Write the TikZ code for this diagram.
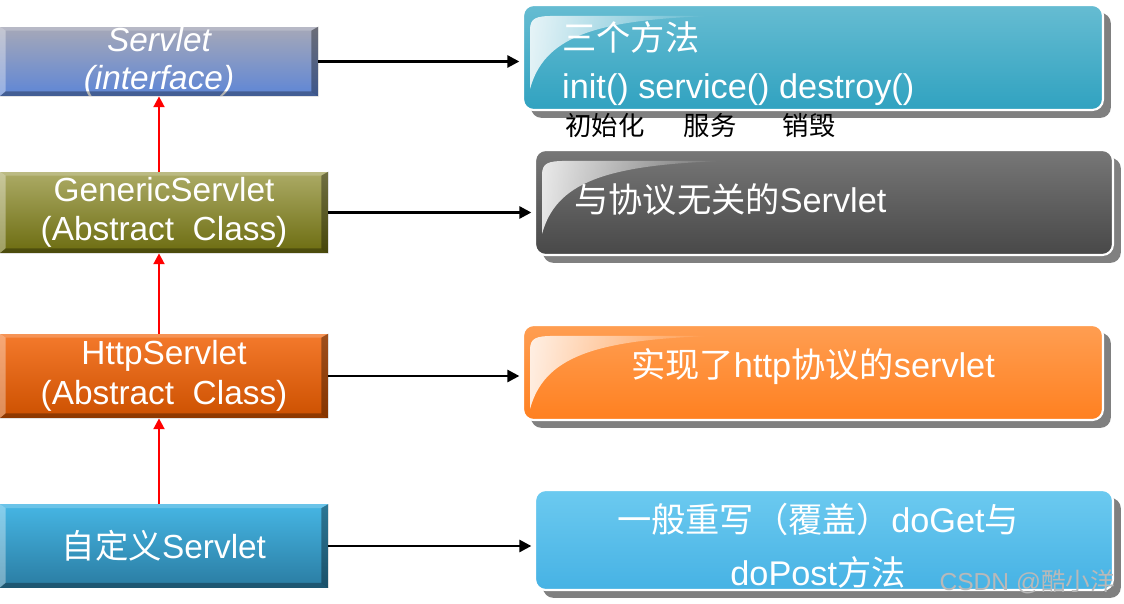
\documentclass[tikz,border=0pt]{standalone}
\usepackage{fontspec}
\setmainfont{Liberation Sans}
\newfontfamily\cjk{Noto Sans CJK SC}
\usetikzlibrary{arrows.meta,shadows,fadings}

\definecolor{servletTop}{HTML}{A6A8B8}
\definecolor{servletBot}{HTML}{5E86D6}
\definecolor{genericTop}{HTML}{ACAB66}
\definecolor{genericBot}{HTML}{6C6C10}
\definecolor{httpTop}{HTML}{F47A2C}
\definecolor{httpBot}{HTML}{CC5000}
\definecolor{customTop}{HTML}{46B6E4}
\definecolor{customBot}{HTML}{2A7CA2}
\definecolor{lifeTop}{HTML}{66BCD2}
\definecolor{lifeBot}{HTML}{30A2C0}
\definecolor{plainTop}{HTML}{777777}
\definecolor{plainBot}{HTML}{484848}
\definecolor{protoTop}{HTML}{FF9E52}
\definecolor{protoBot}{HTML}{FF8020}
\definecolor{userTop}{HTML}{6CCAF0}
\definecolor{userBot}{HTML}{46B2E4}

\tikzfading[name=glossfade, left color=transparent!15, right color=transparent!100]

\tikzset{
	cls/.style={minimum width=6.56cm, minimum height=1.64cm, inner sep=0pt, text=white, align=center, font=\fontsize{19}{22.5}\selectfont},
	note/.style={rounded corners=6pt, draw=white, line width=1.2pt, minimum width=11.6cm, minimum height=2.1cm, inner sep=0pt, general shadow={fill=black!50, shadow xshift=4.5pt, shadow yshift=-4.5pt}},
	notetext/.style={text=white, font=\fontsize{19.5}{30}\selectfont},
	under/.style={font=\cjk\fontsize{15}{18}\selectfont},
	up/.style={red, line width=1.4pt, -{Triangle[length=6.2pt, width=6.2pt]}},
	across/.style={black, line width=1.5pt, -{Triangle[length=6.8pt, width=6.8pt]}, shorten >=1.5pt},
}

% bevelled edges of a class box
\newcommand{\classbevel}[1]{
	\fill [white, opacity=0.35] (#1.north west) -- (#1.south west) -- ([shift={(6,-5)}]#1.south west) -- ([shift={(6,4)}]#1.north west) -- cycle;
	\fill [white, opacity=0.2] (#1.north west) -- (#1.north east) -- ([shift={(-7,4)}]#1.north east) -- ([shift={(6,4)}]#1.north west) -- cycle;
	\fill [black, opacity=0.35] (#1.north east) -- (#1.south east) -- ([shift={(-7,-5)}]#1.south east) -- ([shift={(-7,4)}]#1.north east) -- cycle;
	\fill [black, opacity=0.3] (#1.south west) -- (#1.south east) -- ([shift={(-7,-5)}]#1.south east) -- ([shift={(6,-5)}]#1.south west) -- cycle;
}
% glossy corner of a note box
\newcommand{\notegloss}[1]{
	\fill [white, path fading=glossfade] ([shift={(8,85)}]#1.north west) -- ([shift={(8,26)}]#1.north west) .. controls ([shift={(8,14)}]#1.north west) and ([shift={(14,12)}]#1.north west) .. ([shift={(32,12)}]#1.north west) -- ([shift={(190,12)}]#1.north west) .. controls ([shift={(70,16)}]#1.north west) and ([shift={(22,34)}]#1.north west) .. cycle;
}

\begin{document}
\begin{tikzpicture}[x=0.02cm, y=-0.02cm]
	\useasboundingbox (0,0) rectangle (1124,604);

	% class hierarchy
	\node [cls, minimum width=6.36cm, minimum height=1.38cm, top color=servletTop, bottom color=servletBot, font=\fontsize{19}{21.5}\selectfont\itshape] (servlet) at (159,61.5) {Servlet\\(interface)};
	\node [cls, minimum height=1.62cm, top color=genericTop, bottom color=genericBot] (generic) at (164,212.5) {GenericServlet\\(Abstract\ \ Class)};
	\node [cls, minimum height=1.68cm, top color=httpTop, bottom color=httpBot] (http) at (164,376) {HttpServlet\\(Abstract\ \ Class)};
	\node [cls, minimum height=1.66cm, top color=customTop, bottom color=customBot] (custom) at (164,546) {{\cjk 自定义}Servlet};
	\classbevel{servlet}
	\classbevel{generic}
	\classbevel{http}
	\classbevel{custom}

	\draw [up] (generic.north -| servlet.south) -- (servlet.south);
	\draw [up] (http.north -| servlet.south) -- (generic.south -| servlet.south);
	\draw [up] (custom.north -| servlet.south) -- (http.south -| servlet.south);

	% notes on the right
	\node [note, top color=lifeTop, bottom color=lifeBot] (life) at (813,57.5) {};
	\node [note, minimum width=11.56cm, top color=plainTop, bottom color=plainBot] (plain) at (824,202.5) {};
	\node [note, minimum height=1.9cm, top color=protoTop, bottom color=protoBot] (proto) at (813,372.5) {};
	\node [note, minimum width=11.56cm, minimum height=2cm, top color=userTop, bottom color=userBot] (user) at (824,540) {};
	\notegloss{life}
	\notegloss{plain}
	\notegloss{proto}

	\node [notetext, anchor=west] (methods) at (556,37) {\cjk 三个方法};
	\node [notetext, anchor=west] (calls) at (556,90) {init() service() destroy()};
	\node [under] (initlbl) at (605,125) {初始化};
	\node [under] (servicelbl) at (710,125) {服务};
	\node [under] (destroylbl) at (809,125) {销毁};
	\node [notetext, anchor=west] (plaintext) at (568,200) {{\cjk 与协议无关的}Servlet};
	\node [notetext] (prototext) at (813,367) {{\cjk 实现了}http{\cjk 协议的}servlet};
	\node [notetext, align=center] (usertext) at (818,546) {{\cjk 一般重写（覆盖）}doGet{\cjk 与}\\doPost{\cjk 方法}};
	\node [text=gray!55, font=\fontsize{14}{16}\selectfont, anchor=east] (mark) at (1121,582) {CSDN @{\cjk 酷小洋}};

	\draw [across] (servlet.east) -- (servlet.east -| life.west);
	\draw [across] (generic.east) -- (generic.east -| plain.west);
	\draw [across] (http.east) -- (http.east -| proto.west);
	\draw [across] (custom.east) -- (custom.east -| user.west);
\end{tikzpicture}
\end{document}
